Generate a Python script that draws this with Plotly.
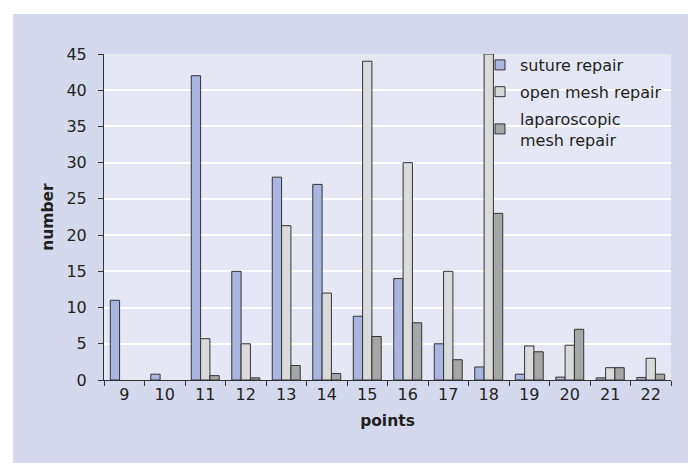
import plotly.graph_objects as go

categories = ["9", "10", "11", "12", "13", "14", "15", "16", "17", "18", "19", "20", "21", "22"]
suture_repair = [11, 0.8, 42, 15, 28, 27, 8.8, 14, 5, 1.8, 0.8, 0.4, 0.3, 0.35]
open_mesh_repair = [0, 0, 5.7, 5, 21.3, 12, 44, 30, 15, 45, 4.7, 4.8, 1.7, 3]
lap_mesh_repair = [0, 0, 0.6, 0.3, 2, 0.9, 6, 7.9, 2.8, 23, 3.9, 7, 1.7, 0.8]

series_names = ["suture repair", "open mesh repair", "laparoscopic<br>mesh repair"]
series_colors = ["#a9b6e2", "#dadada", "#a6a6a6"]

FONT = "DejaVu Sans"
TXT = "#231f20"
fig = go.Figure()
for i, (name, vals, col) in enumerate(zip(series_names, [suture_repair, open_mesh_repair, lap_mesh_repair], series_colors)):
    fig.add_trace(go.Bar(
        x=categories, y=vals, name=name, showlegend=False, legendgroup=f"g{i}",
        marker=dict(color=col, line=dict(color="#333333", width=[1 if v > 0 else 0 for v in vals])),
    ))
for i, (name, col) in enumerate(zip(series_names, series_colors)):
    fig.add_trace(go.Scatter(
        x=[None], y=[None], mode="markers", name=name, legendgroup=f"g{i}",
        marker=dict(symbol="square", size=10, color=col, line=dict(color="#333333", width=1)),
    ))

W, H = 696, 463
L, R, T, B = 96, 663, 46, 372
pw, ph = R - L, B - T

def px(x):
    return (x - L) / pw

def py(y):
    return (B - y) / ph

fig.add_shape(type="rect", xref="paper", yref="paper",
              x0=px(5), x1=px(691), y0=py(463), y1=py(6),
              fillcolor="#d5d9ee", line=dict(width=0), layer="below")
fig.add_shape(type="rect", xref="paper", yref="paper",
              x0=0, x1=1, y0=0, y1=1,
              fillcolor="#e5e7f5", line=dict(width=0), layer="below")

fig.update_layout(
    width=W, height=H,
    margin=dict(l=L, r=W - R, t=T, b=H - B),
    paper_bgcolor="white",
    plot_bgcolor="#e5e7f5",
    barmode="group",
    bargap=0.31,
    bargroupgap=0,
    font=dict(family=FONT, size=16, color=TXT),
    showlegend=True,
    legend=dict(
        x=px(472), y=py(40), xanchor="left", yanchor="top",
        bgcolor="rgba(0,0,0,0)", font=dict(size=16, family=FONT, color=TXT),
        tracegroupgap=3, itemwidth=30,
    ),
    xaxis=dict(
        type="category",
        showline=True, linecolor="#333333", linewidth=1,
        ticks="outside", tickson="boundaries", ticklen=5, tickcolor="#333333",
        showgrid=False,
        tickfont=dict(size=16),
        title=dict(text="<b>points</b>", font=dict(size=15.5), standoff=11),
    ),
    yaxis=dict(
        range=[0, 45], dtick=5,
        showline=True, linecolor="#333333", linewidth=1,
        ticks="outside", ticklen=5, tickcolor="#333333",
        ticklabelstandoff=8,
        showgrid=True, gridcolor="white", gridwidth=1.5,
        zeroline=False,
        tickfont=dict(size=16),
        title=dict(text="<b>number</b>", font=dict(size=15.5), standoff=9),
    ),
)

fig.write_html("out.html")
